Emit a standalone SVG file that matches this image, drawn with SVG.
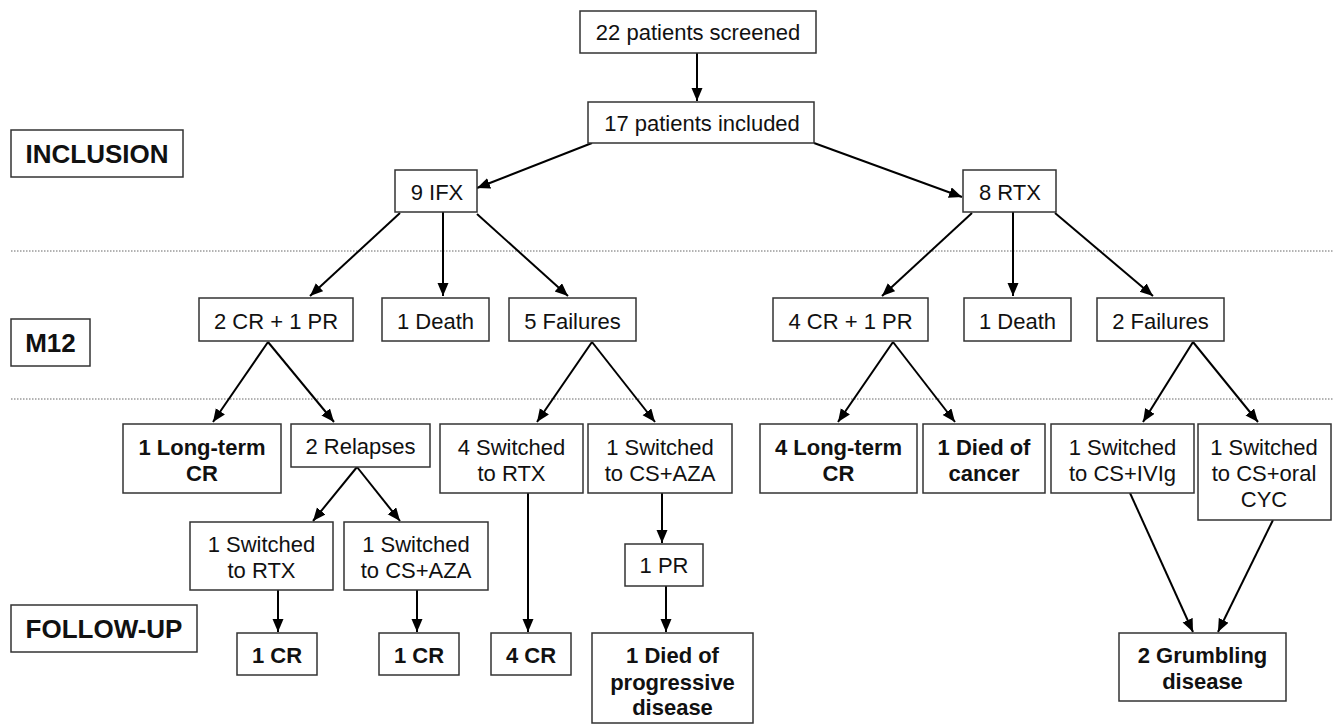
<svg xmlns="http://www.w3.org/2000/svg" width="1333" height="726" viewBox="0 0 1333 726">
<style>
.box{fill:#fff;stroke:#333;stroke-width:1.5}
.t{font-family:"Liberation Sans",Arial,sans-serif;font-size:22px;fill:#111;text-anchor:middle}
.b{font-weight:bold}
.lab{font-family:"Liberation Sans",Arial,sans-serif;font-size:26px;font-weight:bold;fill:#111;text-anchor:middle}
.c{stroke:#000;stroke-width:2;fill:none;marker-end:url(#ah)}
.dot{stroke:#666;stroke-width:1;stroke-dasharray:1.5,1.5}
</style>
<defs>
<marker id="ah" markerUnits="userSpaceOnUse" markerWidth="14" markerHeight="12" refX="13" refY="5.5" orient="auto">
<path d="M0,0 L13,5.5 L0,11 z" fill="#000"/>
</marker>
</defs>
<rect width="1333" height="726" fill="#fff"/>
<g id="dividers">
<line class="dot" x1="11" y1="251" x2="1333" y2="251"/>
<line class="dot" x1="11" y1="399" x2="1333" y2="399"/>
</g>
<g id="label-inclusion"><rect class="box" x="11" y="130" width="172" height="47"/><text class="lab" x="97" y="163">INCLUSION</text></g>
<g id="label-m12"><rect class="box" x="11" y="319" width="79" height="47"/><text class="lab" x="50.5" y="352">M12</text></g>
<g id="label-followup"><rect class="box" x="11" y="605" width="186" height="47"/><text class="lab" x="104" y="638">FOLLOW-UP</text></g>

<g id="connectors">
<line class="c" x1="697" y1="53" x2="697" y2="101"/>
<line class="c" x1="592" y1="143" x2="477" y2="188"/>
<line class="c" x1="814" y1="143" x2="962" y2="197"/>
<line class="c" x1="400" y1="213" x2="310" y2="296"/>
<line class="c" x1="443" y1="212" x2="443" y2="296"/>
<line class="c" x1="477" y1="214" x2="568" y2="296"/>
<line class="c" x1="972" y1="213" x2="882" y2="296"/>
<line class="c" x1="1013" y1="212" x2="1013" y2="296"/>
<line class="c" x1="1055" y1="213" x2="1153" y2="296"/>
<line class="c" x1="268" y1="342" x2="213" y2="422"/>
<line class="c" x1="268" y1="342" x2="334" y2="422"/>
<line class="c" x1="592" y1="342" x2="537" y2="422"/>
<line class="c" x1="592" y1="342" x2="655" y2="422"/>
<line class="c" x1="893" y1="342" x2="838" y2="422"/>
<line class="c" x1="893" y1="342" x2="955" y2="422"/>
<line class="c" x1="1193" y1="342" x2="1143" y2="422"/>
<line class="c" x1="1193" y1="342" x2="1258" y2="422"/>
<line class="c" x1="357" y1="467" x2="313" y2="521"/>
<line class="c" x1="357" y1="467" x2="400" y2="521"/>
<line class="c" x1="278" y1="590" x2="278" y2="632"/>
<line class="c" x1="417" y1="590" x2="417" y2="632"/>
<line class="c" x1="528" y1="493" x2="528" y2="632"/>
<line class="c" x1="662" y1="493" x2="662" y2="543"/>
<line class="c" x1="666" y1="586" x2="666" y2="632"/>
<line class="c" x1="1130" y1="493" x2="1193" y2="632"/>
<line class="c" x1="1273" y1="520" x2="1218" y2="632"/>
</g>

<g id="n-screened"><rect class="box" x="580" y="11" width="236" height="42"/><text class="t" x="698" y="40">22 patients screened</text></g>
<g id="n-included"><rect class="box" x="588" y="102" width="226" height="41"/><text class="t" x="702" y="131">17 patients included</text></g>
<g id="n-ifx"><rect class="box" x="395" y="170" width="82" height="42"/><text class="t" x="437" y="200">9 IFX</text></g>
<g id="n-rtx"><rect class="box" x="963" y="170" width="93" height="42"/><text class="t" x="1010" y="200">8 RTX</text></g>

<g id="n-ifx-crpr"><rect class="box" x="199" y="298" width="154" height="43"/><text class="t" x="276" y="329">2 CR + 1 PR</text></g>
<g id="n-ifx-death"><rect class="box" x="382" y="298" width="107" height="43"/><text class="t" x="435.5" y="329">1 Death</text></g>
<g id="n-ifx-fail"><rect class="box" x="509" y="298" width="127" height="43"/><text class="t" x="572.5" y="329">5 Failures</text></g>
<g id="n-rtx-crpr"><rect class="box" x="773" y="298" width="155" height="43"/><text class="t" x="850.5" y="329">4 CR + 1 PR</text></g>
<g id="n-rtx-death"><rect class="box" x="964" y="298" width="107" height="43"/><text class="t" x="1017.5" y="329">1 Death</text></g>
<g id="n-rtx-fail"><rect class="box" x="1097" y="298" width="127" height="43"/><text class="t" x="1160.5" y="329">2 Failures</text></g>

<g id="n-lt-cr1"><rect class="box" x="123" y="424" width="158" height="69"/><text class="t b" x="202" y="455">1 Long-term</text><text class="t b" x="202" y="481">CR</text></g>
<g id="n-relapses"><rect class="box" x="291" y="424" width="139" height="43"/><text class="t" x="360.5" y="454">2 Relapses</text></g>
<g id="n-sw-rtx4"><rect class="box" x="440" y="424" width="143" height="69"/><text class="t" x="511.5" y="455">4 Switched</text><text class="t" x="511.5" y="481">to RTX</text></g>
<g id="n-sw-aza1"><rect class="box" x="588" y="424" width="144" height="69"/><text class="t" x="660" y="455">1 Switched</text><text class="t" x="660" y="481">to CS+AZA</text></g>
<g id="n-lt-cr4"><rect class="box" x="760" y="424" width="157" height="69"/><text class="t b" x="838.5" y="455">4 Long-term</text><text class="t b" x="838.5" y="481">CR</text></g>
<g id="n-died-cancer"><rect class="box" x="923" y="424" width="122" height="69"/><text class="t b" x="984" y="455">1 Died of</text><text class="t b" x="984" y="481">cancer</text></g>
<g id="n-sw-ivig"><rect class="box" x="1051" y="424" width="143" height="69"/><text class="t" x="1122.5" y="455">1 Switched</text><text class="t" x="1122.5" y="481">to CS+IVIg</text></g>
<g id="n-sw-cyc"><rect class="box" x="1198" y="424" width="133" height="96"/><text class="t" x="1264" y="455">1 Switched</text><text class="t" x="1264" y="481">to CS+oral</text><text class="t" x="1264" y="507">CYC</text></g>

<g id="n-rel-rtx"><rect class="box" x="190" y="522" width="143" height="68"/><text class="t" x="261.5" y="552">1 Switched</text><text class="t" x="261.5" y="578">to RTX</text></g>
<g id="n-rel-aza"><rect class="box" x="344" y="522" width="144" height="68"/><text class="t" x="416" y="552">1 Switched</text><text class="t" x="416" y="578">to CS+AZA</text></g>
<g id="n-pr"><rect class="box" x="625" y="544" width="78" height="42"/><text class="t" x="664" y="573">1 PR</text></g>

<g id="n-cr-a"><rect class="box" x="237" y="633" width="80" height="42"/><text class="t b" x="277" y="663">1 CR</text></g>
<g id="n-cr-b"><rect class="box" x="379" y="633" width="80" height="42"/><text class="t b" x="419" y="663">1 CR</text></g>
<g id="n-cr-4"><rect class="box" x="491" y="633" width="80" height="42"/><text class="t b" x="531" y="663">4 CR</text></g>
<g id="n-died-prog"><rect class="box" x="592" y="633" width="161" height="90"/><text class="t b" x="672.5" y="663">1 Died of</text><text class="t b" x="672.5" y="690">progressive</text><text class="t b" x="672.5" y="715">disease</text></g>
<g id="n-grumbling"><rect class="box" x="1119" y="633" width="167" height="68"/><text class="t b" x="1202.5" y="663">2 Grumbling</text><text class="t b" x="1202.5" y="689">disease</text></g>
</svg>
